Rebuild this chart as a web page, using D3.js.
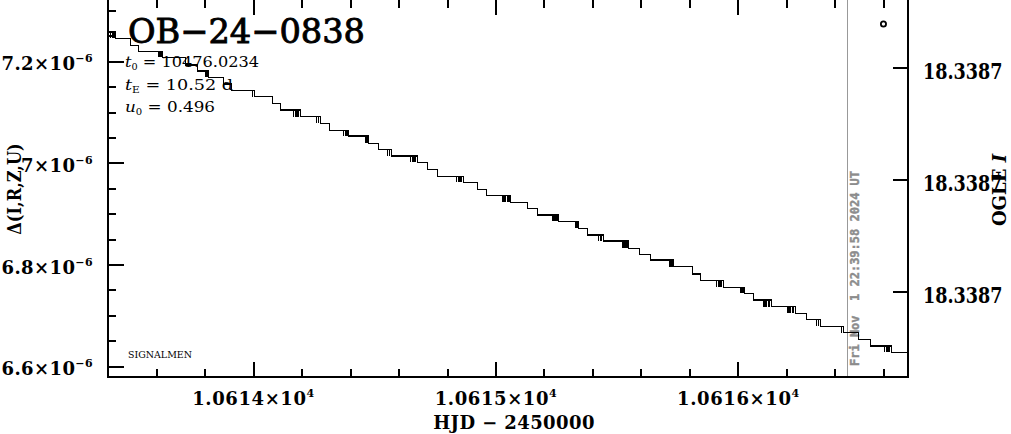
<!DOCTYPE html>
<html><head><meta charset="utf-8">
<script src="https://cdn.jsdelivr.net/npm/d3@7"></script>
<style>body{margin:0;background:#fff;overflow:hidden}svg{display:block}</style>
</head><body><svg id="c" width="1011" height="434"></svg>
<script>
// ---------------- data ----------------
const titleText = "OB\u221224\u22120838";
const paramNames = ["t", "t", "u"];
const paramSubs = ["0", "E", "0"];
const paramValues = ["10476.0234", "10.52 d", "0.496"];
const hjdDomain = [10613.401, 10616.698];
const deltaDomainE6 = [6.5807, 7.3234];           // in units of 1e-6
const xMajorTicks = [10614, 10615, 10616];
const xTickMantissa = ["1.0614", "1.0615", "1.0616"];
const yMajorTicksE6 = [6.6, 6.8, 7.0, 7.2];
const yTickMantissa = ["6.6", "6.8", "7", "7.2"];
const magDomain = [18.3386638, 18.3386975];
const magTicks = [18.33867, 18.33868, 18.33869];
// stepped model curve: level start (HJD), level value (Delta x 1e6), and start of spike cluster (HJD) before the drop
const stepHJD = [10613.401,10613.431,10613.493,10613.526,10613.625,10613.720,10613.769,10613.814,10613.876,10613.909,
  10614.004,10614.078,10614.111,10614.194,10614.276,10614.313,10614.392,10614.474,10614.515,10614.569,
  10614.676,10614.718,10614.759,10614.866,10614.924,10614.961,10615.060,10615.130,10615.171,10615.258,
  10615.340,10615.377,10615.443,10615.546,10615.592,10615.637,10615.732,10615.810,10615.843,10615.938,
  10616.025,10616.062,10616.136,10616.235,10616.280,10616.338,10616.433,10616.495,10616.544,10616.631];
const stepDeltaE6 = [7.2584,7.2460,7.2315,7.2197,7.2087,7.1935,7.1817,7.1693,7.1561,7.1437,
  7.1311,7.1182,7.1050,7.0922,7.0788,7.0650,7.0538,7.0395,7.0277,7.0145,
  7.0021,6.9883,6.9745,6.9627,6.9490,6.9368,6.9234,6.9116,6.8984,6.8860,
  6.8722,6.8591,6.8473,6.8329,6.8211,6.8099,6.7967,6.7823,6.7695,6.7562,
  6.7444,6.7312,6.7184,6.7050,6.6932,6.6794,6.6669,6.6539,6.6407,6.6283];
const spikeFromHJD = [null,10613.410,null,null,10613.608,null,null,10613.802,null,null,
  10613.996,null,null,10614.165,10614.260,null,10614.371,10614.462,null,10614.553,
  10614.647,null,null,10614.837,null,null,10615.027,null,null,10615.233,
  10615.328,null,10615.423,10615.522,null,null,10615.715,null,null,10615.909,
  10616.008,null,10616.103,10616.202,null,10616.322,10616.425,null,null,10616.602];
const nowHJD = 10616.449;
const nowLabel = "Fri Nov  1 22:39:58 2024 UT";
const markerHJD = [10616.598];
const markerDeltaE6 = [7.2742];
const xLabel = "HJD \u2212 2450000";
const yLabel = "\u0394(I,R,Z,U)";
const creditText = "SIGNALMEN";

// ---------------- drawing ----------------
const svg = d3.select("#c");
const L = 108.3, R = 907.7, T = -1, B = 376.5;
const x = d3.scaleLinear().domain(hjdDomain).range([L, R]);
const y = d3.scaleLinear().domain(deltaDomainE6).range([B, T]);
const ym = d3.scaleLinear().domain(magDomain).range([T, B]);
const serif = "'DejaVu Serif', serif";

svg.append("defs").append("clipPath").attr("id","clip")
  .append("rect").attr("x",L).attr("y",T).attr("width",R-L).attr("height",B-T);

// vertical "now" line
svg.append("line").attr("x1",x(nowHJD)).attr("x2",x(nowHJD)).attr("y1",T).attr("y2",B)
  .attr("stroke","#999").attr("stroke-width",1.2).attr("shape-rendering","crispEdges");
svg.append("text").attr("transform",`translate(${x(nowHJD)+12},366) rotate(-90)`)
  .attr("font-family","'DejaVu Sans Mono', monospace").attr("font-weight","bold")
  .attr("font-size",12).attr("fill","#8c8c8c").attr("stroke","#8c8c8c").attr("stroke-width",0.4)
  .style("white-space","pre").text(nowLabel);

// curve
const pts = stepHJD.map((h,i)=>({h, d:stepDeltaE6[i]}));
pts.push({h:hjdDomain[1], d:stepDeltaE6[stepDeltaE6.length-1]});
const g = svg.append("g").attr("clip-path","url(#clip)");
g.append("path").attr("d", d3.line().x(p=>x(p.h)).y(p=>y(p.d)).curve(d3.curveStepAfter)(pts))
  .attr("fill","none").attr("stroke","#000").attr("stroke-width",1.5).attr("shape-rendering","crispEdges");
let sp = "";
stepHJD.forEach((h,i)=>{
  if (spikeFromHJD[i]==null || i===0) return;
  const x0 = x(spikeFromHJD[i]), x1 = x(h);
  const n = Math.max(1, Math.round((x1-x0)/1.6));
  const yu = y(stepDeltaE6[i-1]), yl = y(stepDeltaE6[i]);
  for (let k=0;k<n;k++){ const sx = x0 + k*(x1-x0)/n; sp += `M${sx},${yu}V${yl}`; }
});
g.append("path").attr("d",sp).attr("fill","none").attr("stroke","#000").attr("stroke-width",1.3).attr("shape-rendering","crispEdges");

// marker
svg.selectAll("circle.m").data(markerHJD).join("circle").attr("class","m")
  .attr("cx",(d,i)=>x(d)).attr("cy",(d,i)=>y(markerDeltaE6[i])).attr("r",2.6)
  .attr("fill","none").attr("stroke","#000").attr("stroke-width",1.8);

// frame
svg.append("rect").attr("x",L).attr("y",T).attr("width",R-L).attr("height",B-T)
  .attr("fill","none").attr("stroke","#000").attr("stroke-width",2).attr("shape-rendering","crispEdges");

// ticks
const tk = svg.append("g").attr("stroke","#000").attr("stroke-width",2).attr("shape-rendering","crispEdges");
const xMinor = d3.range(10613.4, 10616.75, 0.2).filter(v=>v>=hjdDomain[0]&&v<=hjdDomain[1]&&Math.abs(v-Math.round(v))>1e-6);
xMajorTicks.forEach(v=>{ tk.append("line").attr("x1",x(v)).attr("x2",x(v)).attr("y1",B).attr("y2",B-15);
  tk.append("line").attr("x1",x(v)).attr("x2",x(v)).attr("y1",T).attr("y2",T+16); });
xMinor.forEach(v=>{ tk.append("line").attr("x1",x(v)).attr("x2",x(v)).attr("y1",B).attr("y2",B-7.5);
  tk.append("line").attr("x1",x(v)).attr("x2",x(v)).attr("y1",T).attr("y2",T+9); });
const yMinor = d3.range(6.55, 7.36, 0.05).filter(v=>v>=deltaDomainE6[0]&&v<=deltaDomainE6[1]&&!yMajorTicksE6.some(m=>Math.abs(m-v)<1e-6));
yMajorTicksE6.forEach(v=>tk.append("line").attr("x1",L).attr("x2",L+16).attr("y1",y(v)).attr("y2",y(v)));
yMinor.forEach(v=>tk.append("line").attr("x1",L).attr("x2",L+8).attr("y1",y(v)).attr("y2",y(v)));
magTicks.forEach(v=>tk.append("line").attr("x1",R).attr("x2",R-15).attr("y1",ym(v)).attr("y2",ym(v)));

// tick labels
yMajorTicksE6.forEach((v,i)=>{
  const t = svg.append("text").attr("x",93).attr("y",y(v)+8.5).attr("text-anchor","end")
    .attr("font-family",serif).attr("font-weight","bold").attr("font-size",18).attr("letter-spacing",0.4);
  t.append("tspan").text(yTickMantissa[i]+"\u00d710");
  t.append("tspan").attr("font-size",11).attr("dy",-8).text("\u22126");
});
xMajorTicks.forEach((v,i)=>{
  const t = svg.append("text").attr("x",x(v)).attr("y",405).attr("text-anchor","middle")
    .attr("font-family",serif).attr("font-weight","bold").attr("font-size",18).attr("letter-spacing",0.6);
  t.append("tspan").text(xTickMantissa[i]+"\u00d710");
  t.append("tspan").attr("font-size",11).attr("dy",-8).text("4");
});
const fmtMag = d3.format(".4f");
magTicks.forEach(v=>svg.append("text").attr("transform",`translate(923,${ym(v)+10.5}) scale(0.8,1)`)
  .attr("font-family",serif).attr("font-weight","bold").attr("font-size",22).text(fmtMag(v)));

// axis labels
svg.append("text").attr("x",514).attr("y",429).attr("text-anchor","middle")
  .attr("font-family",serif).attr("font-weight","bold").attr("font-size",18).attr("letter-spacing",0.4)
  .style("white-space","pre").text(xLabel);
svg.append("text").attr("transform","translate(21,189) rotate(-90) scale(0.9,1)").attr("text-anchor","middle")
  .attr("font-family",serif).attr("font-weight","bold").attr("font-size",18).text(yLabel);
const ol = svg.append("text").attr("transform","translate(1006,190) rotate(-90)").attr("text-anchor","middle")
  .attr("font-family",serif).attr("font-weight","bold").attr("font-size",18);
ol.append("tspan").text("OGLE ");
ol.append("tspan").attr("font-style","italic").text("I");

// title and fit parameters
svg.append("text").attr("x",128).attr("y",43).attr("font-family",serif).attr("font-size",34)
  .attr("stroke","#000").attr("stroke-width",0.9)
  .attr("textLength",237).attr("lengthAdjust","spacingAndGlyphs").text(titleText);
const paramLen = [134, 108, 90];
paramNames.forEach((nm,i)=>{
  const t = svg.append("text").attr("x",125).attr("y",67+22.5*i).attr("font-family",serif).attr("font-size",15)
    .attr("textLength",paramLen[i]).attr("lengthAdjust","spacingAndGlyphs").style("white-space","pre");
  t.append("tspan").attr("font-style","italic").text(nm);
  t.append("tspan").attr("font-size",9).attr("dy",3).text(paramSubs[i]);
  t.append("tspan").attr("dy",-3).text(" = " + paramValues[i]);
});
svg.append("text").attr("x",128).attr("y",358).attr("font-family",serif).attr("font-size",9)
  .attr("textLength",64).attr("lengthAdjust","spacingAndGlyphs").text(creditText);
</script></body></html>
